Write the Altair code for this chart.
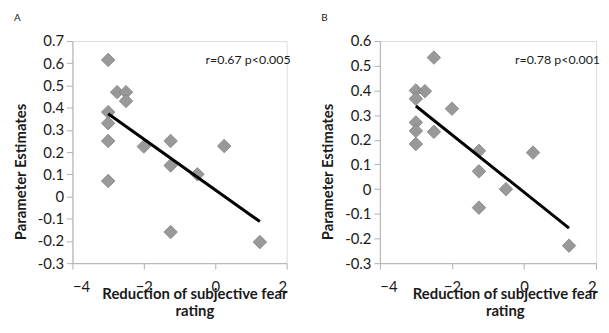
import altair as alt
import pandas as pd

# Panel A data
a_x = [-3, -2.75, -2.5, -2.5, -3, -3, -3, -3, -2, -1.25, -1.25, -1.25, -0.5, 0.25, 1.25]
a_y = [0.615, 0.47, 0.47, 0.43, 0.38, 0.33, 0.25, 0.07, 0.225, 0.25, 0.14, -0.16, 0.10, 0.227, -0.205]

# Panel B data
b_x = [-2.5, -3, -2.75, -3, -2, -3, -3, -2.5, -3, -1.25, -1.25, -1.25, -0.5, 0.25, 1.25]
b_y = [0.533, 0.40, 0.397, 0.366, 0.326, 0.27, 0.236, 0.232, 0.183, 0.155, 0.072, -0.075, 0.0, 0.148, -0.229]

x_ticks = [-4, -2, 0, 2]
a_y_ticks = [-0.3, -0.2, -0.1, 0, 0.1, 0.2, 0.3, 0.4, 0.5, 0.6, 0.7]
b_y_ticks = [-0.3, -0.2, -0.1, 0, 0.1, 0.2, 0.3, 0.4, 0.5, 0.6]

y_title = "Parameter Estimates"
x_title = ["Reduction of subjective fear", "rating"]
a_note = "r=0.67 p<0.005"
b_note = "r=0.78 p<0.001"

FONT = "Lato"
AXIS_COLOR = "#b0b0b0"
TEXT_COLOR = "#1a1a1a"


def panel(xs, ys, yticks, note, letter, w, xtitle_x):
    df = pd.DataFrame({"x": xs, "y": ys})
    xscale = alt.Scale(domain=[x_ticks[0], x_ticks[-1]], nice=False, zero=False)
    yscale = alt.Scale(domain=[yticks[0], yticks[-1]], nice=False, zero=False)
    xaxis = alt.Axis(
        values=x_ticks, grid=False, domainColor=AXIS_COLOR, tickColor=AXIS_COLOR,
        tickSize=6, labelPadding=11, labelFontSize=15, labelFont=FONT, labelColor=TEXT_COLOR,
        labelOverlap=False,
        title=x_title, titleFont=FONT, titleFontSize=15,
        titleFontWeight="bold", titleColor=TEXT_COLOR, titleX=xtitle_x, titleY=24,
        titleBaseline="top", titleAlign="center", titleLineHeight=17,
    )
    yaxis = alt.Axis(
        values=yticks, grid=False, domainColor=AXIS_COLOR, tickColor=AXIS_COLOR,
        tickSize=6, labelPadding=3, labelFontSize=15, labelFont=FONT, labelColor=TEXT_COLOR,
        labelOverlap=False,
        labelExpr="toString(round(datum.value*10)/10)",
        title=None,
    )
    base = alt.Chart(df).encode(
        x=alt.X("x:Q", scale=xscale, axis=xaxis),
        y=alt.Y("y:Q", scale=yscale, axis=yaxis),
    )
    pts = base.mark_point(
        shape="diamond", filled=True, size=185, color="#999999",
        stroke="#7f7f7f", strokeWidth=0.8, opacity=1,
    )
    line = base.transform_regression("x", "y").mark_line(
        color="black", strokeWidth=3
    )
    txt = alt.Chart(pd.DataFrame({"t": [note]})).mark_text(
        align="right", baseline="middle", font=FONT, fontSize=12.5, color=TEXT_COLOR
    ).encode(text="t:N", x=alt.value(w + 4), y=alt.value(19))
    ytxt = alt.Chart(pd.DataFrame({"t": [y_title]})).mark_text(
        align="center", baseline="alphabetic", angle=270, font=FONT, fontSize=15,
        fontWeight="bold", color=TEXT_COLOR
    ).encode(text="t:N", x=alt.value(-47), y=alt.value(132))
    return alt.layer(pts, line, txt, ytxt).properties(
        width=w, height=224,
        title=alt.TitleParams(letter, anchor="start", fontSize=10, fontWeight="normal",
                              font=FONT, color=TEXT_COLOR, offset=11),
    )


pa = panel(a_x, a_y, a_y_ticks, a_note, "A", 216, 123)
pb = panel(b_x, b_y, b_y_ticks, b_note, "B", 218, 126)

chart = alt.hconcat(pa, pb, spacing=94, bounds="flush").properties(
    padding={"left": 5, "top": 3, "right": 0, "bottom": 0}
).configure_view(stroke=None).configure(background="white")

chart.save("out.html", embed_options={"renderer": "svg", "actions": False})
